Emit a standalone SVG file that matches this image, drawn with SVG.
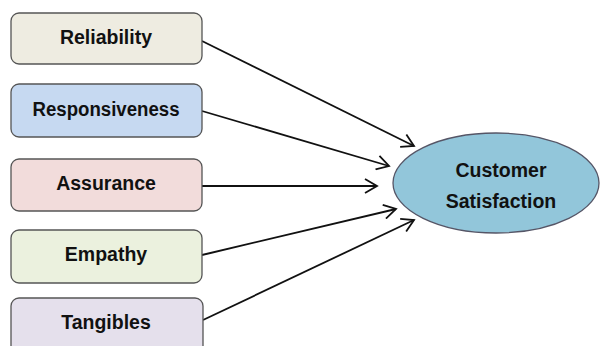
<svg xmlns="http://www.w3.org/2000/svg" width="602" height="346" viewBox="0 0 602 346">
<defs>
<marker id="arr" markerWidth="16" markerHeight="16" refX="13" refY="8" orient="auto" markerUnits="userSpaceOnUse">
<polyline points="1,1 13,8 1,15" fill="none" stroke="#111" stroke-width="1.8"/>
</marker>
</defs>
<style>
.box{stroke:#555;stroke-width:1.3}
.t{font-family:"Liberation Sans",Arial,sans-serif;font-weight:bold;font-size:19.5px;fill:#111;text-anchor:middle;dominant-baseline:central}
.c{stroke:#111;stroke-width:1.8;fill:none;marker-end:url(#arr)}
</style>
<rect width="602" height="346" fill="#fff"/>
<g id="connectors">
<line class="c" x1="202" y1="41" x2="414" y2="146"/>
<line class="c" x1="202" y1="111" x2="389" y2="166"/>
<line class="c" x1="202" y1="186" x2="377" y2="186"/>
<line class="c" x1="202" y1="255" x2="396" y2="209"/>
<line class="c" x1="203" y1="320" x2="414" y2="220"/>
</g>
<g id="reliability"><rect class="box" x="11" y="13" width="191" height="51" rx="8" fill="#EEECE1"/><text class="t" x="106" y="37">Reliability</text></g>
<g id="responsiveness"><rect class="box" x="11" y="84" width="191" height="53" rx="8" fill="#C6D9F1"/><text class="t" x="106" y="109" textLength="147" lengthAdjust="spacingAndGlyphs">Responsiveness</text></g>
<g id="assurance"><rect class="box" x="11" y="159" width="191" height="52" rx="8" fill="#F2DCDB"/><text class="t" x="106" y="183">Assurance</text></g>
<g id="empathy"><rect class="box" x="11" y="230" width="191" height="53" rx="8" fill="#EBF1DE"/><text class="t" x="106" y="254">Empathy</text></g>
<g id="tangibles"><rect class="box" x="11" y="298" width="192" height="56" rx="8" fill="#E5E0EC"/><text class="t" x="106" y="322">Tangibles</text></g>
<g id="customer-satisfaction"><ellipse cx="496" cy="183" rx="103" ry="50" fill="#92C6DA" stroke="#556" stroke-width="1.3"/><text class="t" x="501" y="170">Customer</text><text class="t" x="501" y="201">Satisfaction</text></g>
</svg>
